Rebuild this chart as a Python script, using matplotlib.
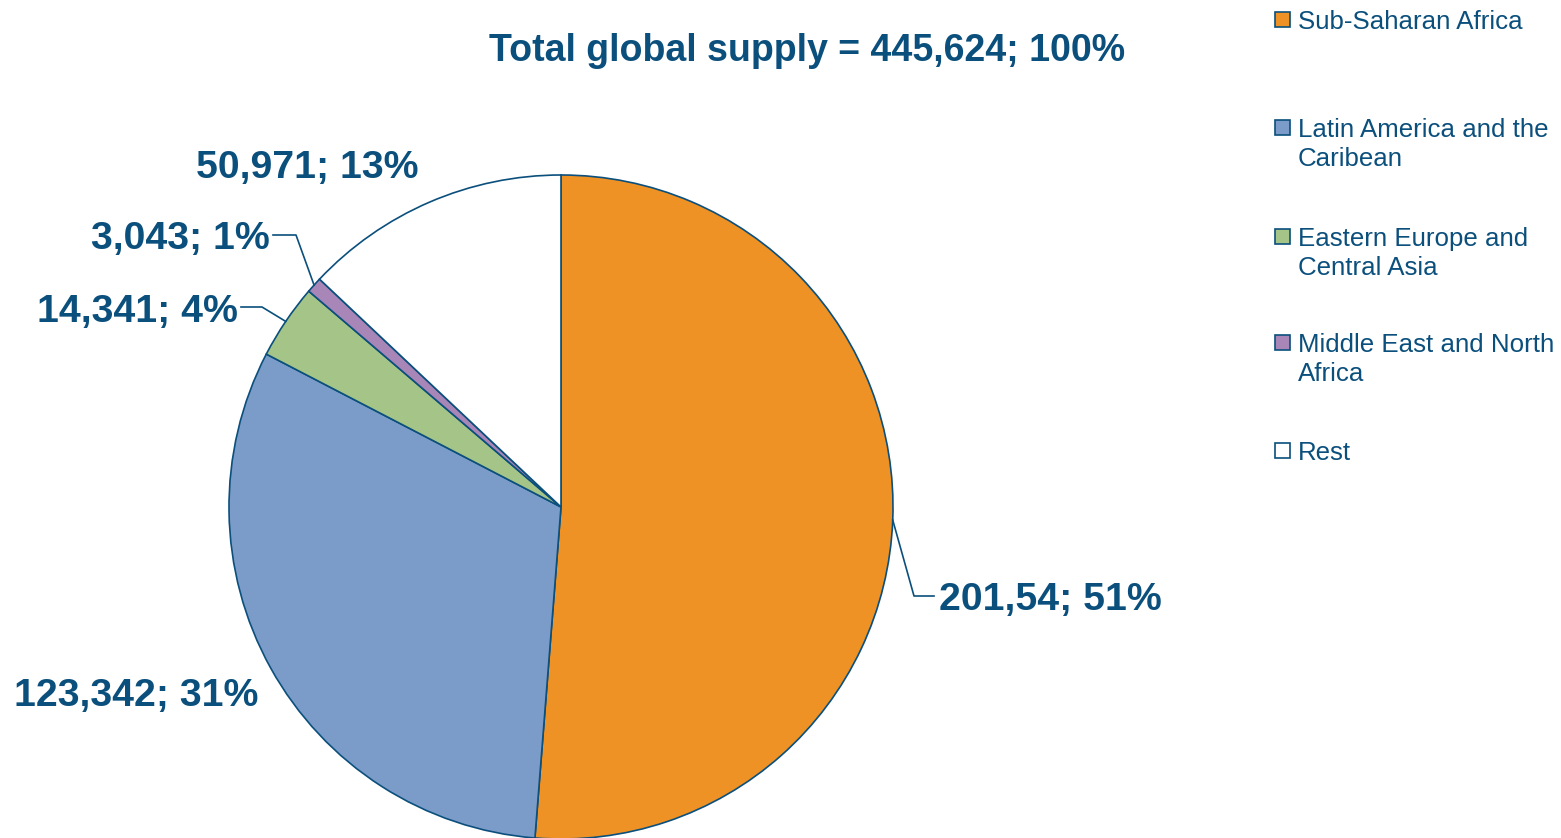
import numpy as np
import matplotlib
matplotlib.use("Agg")
import matplotlib.pyplot as plt
from matplotlib.patches import Rectangle

# Regional supply (units), slice labels and colours
regions = ["Sub-Saharan Africa", "Latin America and the\nCaribean",
           "Eastern Europe and\nCentral Asia", "Middle East and North\nAfrica", "Rest"]
values = [201540, 123342, 14341, 3043, 50971]
value_labels = ["201,54; 51%", "123,342; 31%", "14,341; 4%", "3,043; 1%", "50,971; 13%"]
colors = ["#EE9226", "#7B9CC9", "#A5C487", "#A886B8", "#FFFFFF"]
title = "Total global supply = 445,624; 100%"

W, H = 1561, 838
TEXT = "#0B4F7C"
EDGE = "#0B4F7C"
BOLD = ["Liberation Sans", "DejaVu Sans"]
REGULAR = ["Liberation Sans", "DejaVu Sans"]

fig = plt.figure(figsize=(W / 100, H / 100), dpi=100)
ax = fig.add_axes([0, 0, 1, 1])


def Y(y):
    """pixel row (from top) -> data y"""
    return H - y


cx, cy, r = 561, Y(507), 332
wedges, _ = ax.pie(values, colors=colors, startangle=90, counterclock=False,
                   center=(cx, cy), radius=r, frame=True,
                   wedgeprops=dict(edgecolor=EDGE, linewidth=1.2))
ax.set_xlim(0, W)
ax.set_ylim(0, H)
ax.set_aspect("equal")
ax.axis("off")


def edge_point(w):
    mid = np.deg2rad((w.theta1 + w.theta2) / 2)
    return cx + r * np.cos(mid), cy + r * np.sin(mid)


lab = dict(color=TEXT, fontsize=28.3, fontweight="bold", family=BOLD)

# Sub-Saharan Africa: leader line to the right
px, py = edge_point(wedges[0])
ax.plot([px, 914, 934], [py, Y(596), Y(596)], color=EDGE, lw=1.2)
ax.text(939, Y(600), value_labels[0], ha="left", va="center", **lab)

# Latin America: plain label
ax.text(14, Y(696), value_labels[1], ha="left", va="center", **lab)

# Eastern Europe: leader line to the left
px, py = edge_point(wedges[2])
ax.plot([px, 262, 241], [py, Y(307), Y(307)], color=EDGE, lw=1.2)
ax.text(238, Y(312), value_labels[2], ha="right", va="center", **lab)

# Middle East: leader line to the left
px, py = edge_point(wedges[3])
ax.plot([px, 296, 273], [py, Y(235), Y(235)], color=EDGE, lw=1.2)
ax.text(270, Y(239), value_labels[3], ha="right", va="center", **lab)

# Rest: plain label above
ax.text(307, Y(168), value_labels[4], ha="center", va="center", **lab)

# Title
ax.text(807, Y(51), title, ha="center", va="center", color=TEXT,
        fontsize=27, fontweight="bold", family=BOLD)

# Legend
leg_rows = [20, 128, 237, 343, 451]
for name, col, yr in zip(regions, colors, leg_rows):
    ax.add_patch(Rectangle((1275, Y(yr) - 7.5), 15, 15, facecolor=col,
                           edgecolor=EDGE, linewidth=1.2))
    if "\n" in name:
        ax.text(1298, Y(yr) + 10, name, ha="left", va="top", color=TEXT,
                fontsize=18.6, family=REGULAR, linespacing=1.25)
    else:
        ax.text(1298, Y(yr + 2), name, ha="left", va="center", color=TEXT,
                fontsize=18.6, family=REGULAR)

fig.savefig("out.png", dpi=100, facecolor="white")
